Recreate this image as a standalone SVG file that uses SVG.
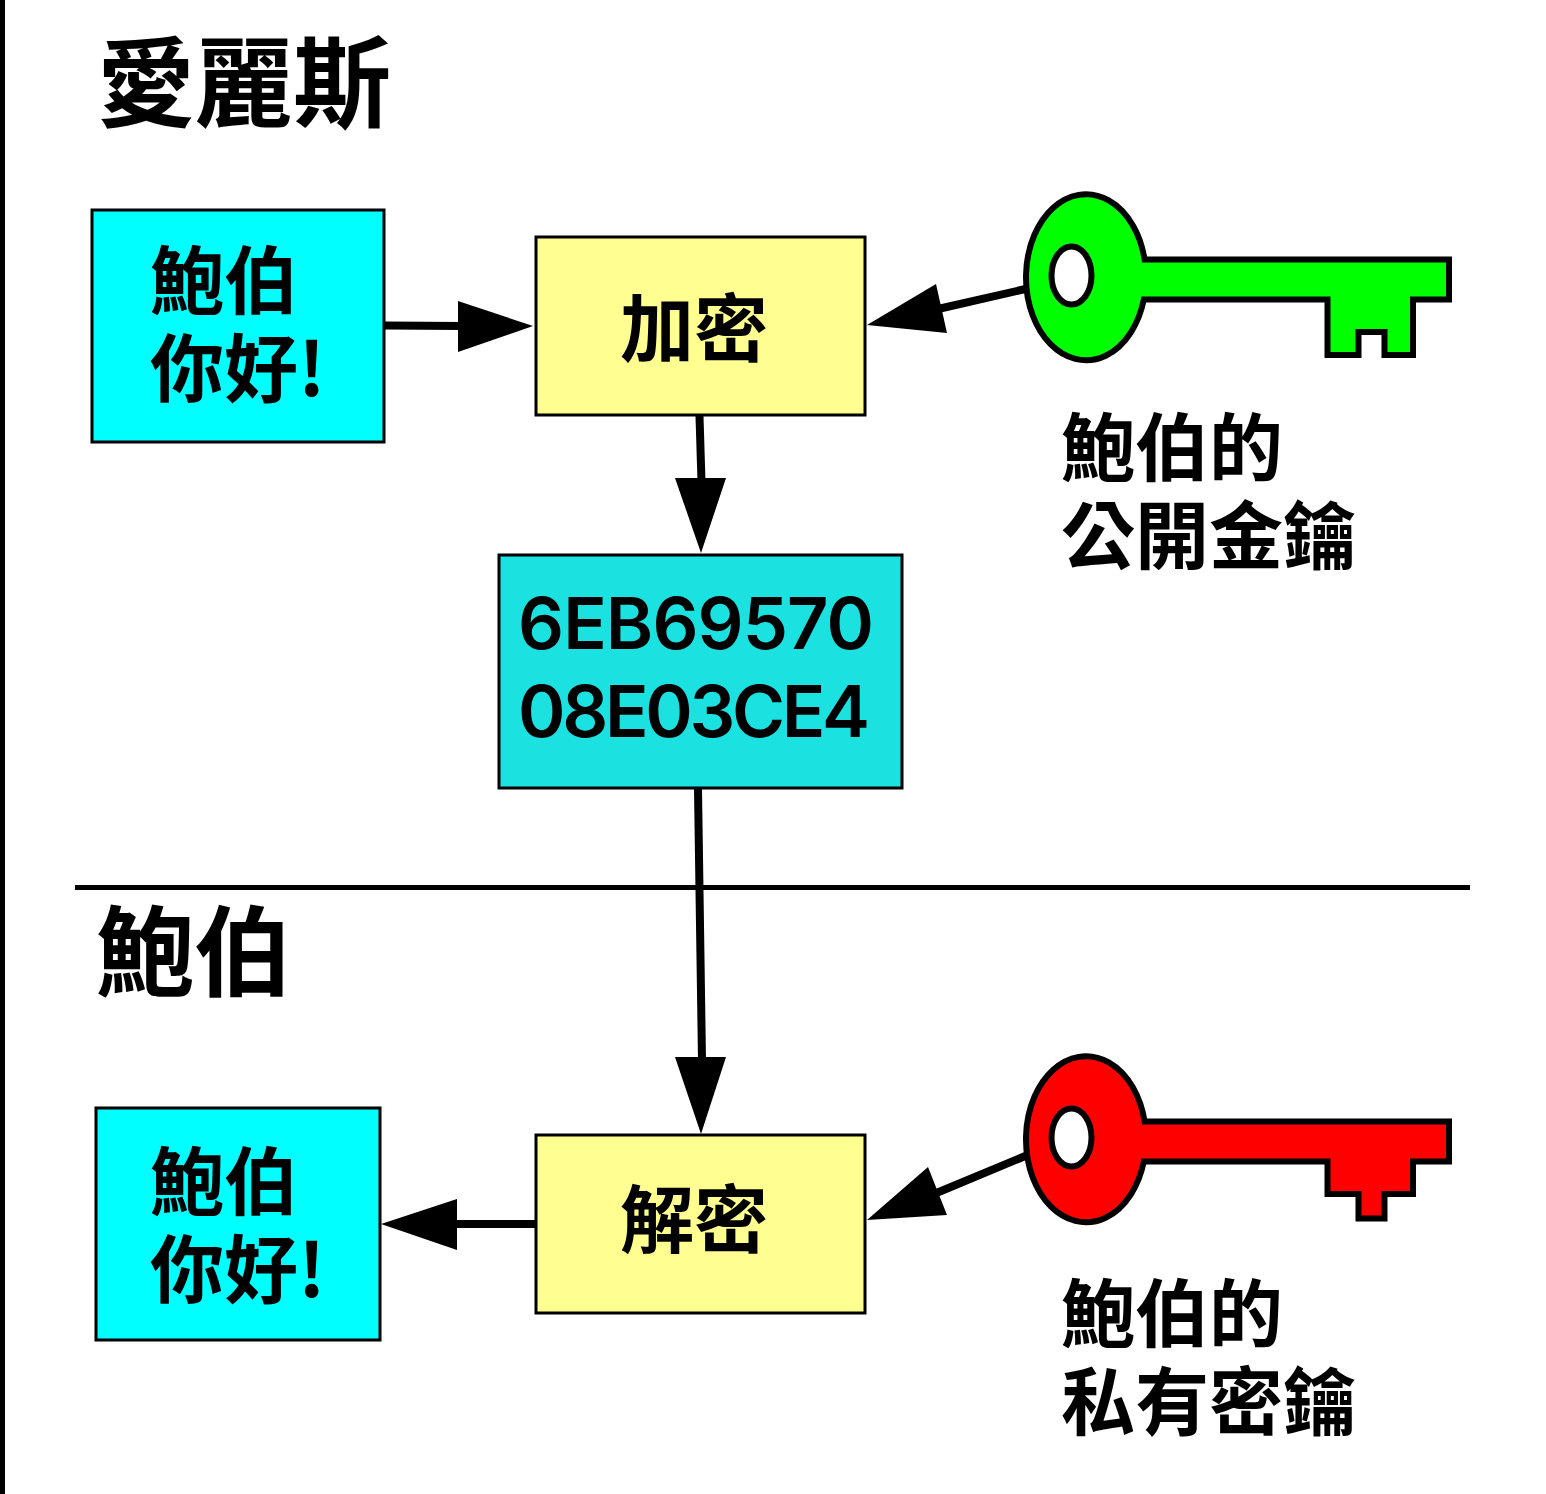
<svg xmlns="http://www.w3.org/2000/svg" width="1546" height="1494" viewBox="0 0 1546 1494">
<style>
.box{stroke:#000;stroke-width:3}
.msg{fill:#00ffff}
.op{fill:#ffff91}
.cipher{fill:#1ce1e1}
.cjk{font-family:"Noto Sans CJK TC","Noto Sans CJK SC",sans-serif;font-weight:700;fill:#000}
.title{font-size:98px}
.label{font-size:74px}
.hex{font-family:Inter,"Liberation Sans",sans-serif;font-weight:600;font-size:72px;fill:#000}
.key{stroke:#000;stroke-width:6}
.hole{fill:#fff;stroke:#000;stroke-width:6}
.wire{stroke:#000;stroke-width:8;fill:none}
.head{fill:#000}
</style>
<rect width="1546" height="1494" fill="#fff"/>
<rect x="0" y="0" width="5" height="1494" fill="#000"/>
<g id="connectors">
<path class="wire" d="M385 325.500L462 326"/>
<polygon class="head" points="533,326 458,301 458,352"/>
<path class="wire" d="M699.500 416L701.500 482"/>
<polygon class="head" points="701,553 675,478 726,478"/>
<path class="wire" d="M1030 288L938 309"/>
<polygon class="head" points="867,325 936,284 947,333"/>
<path class="wire" d="M698 789L702 1060"/>
<polygon class="head" points="701,1134 675,1057 726,1057"/>
<path class="wire" d="M535 1224L453 1224"/>
<polygon class="head" points="381,1224 457,1199 457,1250"/>
<path class="wire" d="M1030 1154L934 1194"/>
<polygon class="head" points="867,1220 928,1167 947,1215"/>
<path d="M75 887.500H1470" stroke="#000" stroke-width="5" fill="none"/>
</g>
<g id="alice-title"><text class="cjk title" x="97" y="119">愛麗斯</text></g>
<g id="bob-title"><text class="cjk title" x="96" y="988">鮑伯</text></g>
<g id="plaintext-top">
<rect class="box msg" x="92" y="210" width="292" height="232"/>
<text class="cjk label"><tspan x="150" y="308">鮑伯</tspan><tspan x="150" y="396">你好!</tspan></text>
</g>
<g id="encrypt">
<rect class="box op" x="536" y="237" width="329" height="178"/>
<text class="cjk label" x="620" y="356">加密</text>
</g>
<g id="ciphertext">
<rect class="box cipher" x="499" y="555" width="403" height="233"/>
<text class="hex" x="518" y="649" textLength="356">6EB69570</text>
<text class="hex" x="518" y="737" textLength="352">08E03CE4</text>
</g>
<g id="plaintext-bottom">
<rect class="box msg" x="96" y="1108" width="284" height="232"/>
<text class="cjk label"><tspan x="150" y="1209">鮑伯</tspan><tspan x="150" y="1297">你好!</tspan></text>
</g>
<g id="decrypt">
<rect class="box op" x="536" y="1135" width="329" height="178"/>
<text class="cjk label" x="620" y="1247">解密</text>
</g>
<g id="public-key">
<path class="key" fill="#00ff00" d="M1144.600 259.500H1449V299.500H1413V355H1384.500V332H1358.500V355H1327.500V299.500H1143.800A60 83 0 1 1 1144.600 259.500Z"/>
<ellipse class="hole" cx="1071.500" cy="275.500" rx="20" ry="29"/>
</g>
<g id="public-key-label">
<text class="cjk label"><tspan x="1061" y="475">鮑伯的</tspan><tspan x="1061" y="563">公開金鑰</tspan></text>
</g>
<g id="private-key">
<path class="key" fill="#ff0000" d="M1144.600 1121.500H1449V1161.500H1413V1194H1384.500V1218.500H1358.500V1194H1327.500V1161.500H1143.800A60 83 0 1 1 1144.600 1121.500Z"/>
<ellipse class="hole" cx="1071.500" cy="1137.500" rx="20" ry="29"/>
</g>
<g id="private-key-label">
<text class="cjk label"><tspan x="1061" y="1341">鮑伯的</tspan><tspan x="1061" y="1429">私有密鑰</tspan></text>
</g>
</svg>
